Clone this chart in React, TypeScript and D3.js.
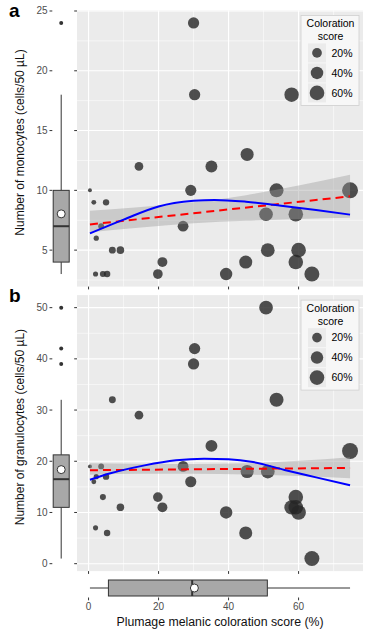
import React from 'react';
import { scaleLinear, scaleSqrt, line, area, curveMonotoneX, quantile, mean, ascending } from 'd3';

// plumage melanic coloration score (%) per bird
const score = [0.4, 1.5, 5, 3.6, 2.2, 6.8, 9.1, 2, 4.1, 5.3, 14.4, 19.8, 21.1, 27, 29.2, 30, 30.3, 35.1, 45.3, 53.7, 50.7, 59.2, 58, 74.7, 51.2, 60, 59.2, 44.9, 39.3, 63.8];
const monocytes = [10, 9, 9, 7, 6, 5, 5, 3, 3, 3, 12, 3, 4, 7, 10, 24, 18, 12, 13, 10, 8, 8, 18, 10, 5, 5, 4, 4, 3, 3];
const granulocytes = [19, 16, 17, 19, 17, 32, 11, 7, 13, 6, 29, 13, 11, 19, 16, 39, 42, 23, 18, 32, 50, 13, 11, 22, 18, 10, 11, 6, 10, 1];

// smoother (blue)
const smoothXA = [0.4, 10, 20, 30, 36, 45, 55, 65, 74.7];
const smoothA = [6.4, 7.55, 8.65, 9.12, 9.2, 9.05, 8.72, 8.35, 7.97];
const smoothXB = [0.4, 6, 16, 25, 33, 40, 47, 56, 65, 74.7];
const smoothB = [16.4, 17.6, 19.2, 20.2, 20.5, 20.4, 19.85, 18.3, 16.85, 15.3];

// linear fit (red dashed) and its band
const fitX = [0.4, 74.7];
const fitA = [7.15, 9.5];
const fitB = [18.25, 18.7];
const bandX = [0.4, 15, 30, 45, 60, 74.7];
const bandLowA = [6.5, 6.9, 7.25, 7.45, 7.6, 7.7];
const bandHighA = [8.3, 8.6, 9.0, 9.6, 10.4, 11.3];
const bandLowB = [17.35, 17.55, 17.55, 17.4, 17.1, 16.7];
const bandHighB = [19.6, 19.5, 19.45, 19.6, 20.1, 20.8];

const xTicks = [0, 20, 40, 60];
const xMinor = [10, 30, 50, 70];
const yTicksA = [5, 10, 15, 20, 25];
const yMinorA = [2.5, 7.5, 12.5, 17.5, 22.5];
const yTicksB = [0, 10, 20, 30, 40, 50];
const yMinorB = [5, 15, 25, 35, 45];
const legendValues = [20, 40, 60];

const FONT = "'Liberation Sans', Arial, sans-serif";
const PANEL_L = 77;
const PANEL_R = 363;

function boxStats(values: number[]) {
  const s = values.slice().sort(ascending);
  const q1 = quantile(s, 0.25)!;
  const med = quantile(s, 0.5)!;
  const q3 = quantile(s, 0.75)!;
  const iqr = q3 - q1;
  const inside = s.filter(v => v >= q1 - 1.5 * iqr && v <= q3 + 1.5 * iqr);
  return {
    q1, med, q3,
    lo: inside[0],
    hi: inside[inside.length - 1],
    mean: mean(s)!,
    out: s.filter(v => v < q1 - 1.5 * iqr || v > q3 + 1.5 * iqr),
  };
}

const x = scaleLinear().domain([-3.3, 78.4]).range([PANEL_L, PANEL_R]);
const size = scaleSqrt().domain([0, 75]).range([1.5, 8]);

type PanelProps = {
  label: string;
  title: string;
  values: number[];
  domain: [number, number];
  top: number;
  bottom: number;
  ticks: number[];
  minor: number[];
  sx: number[];
  sy: number[];
  fit: number[];
  low: number[];
  high: number[];
};

function Panel(p: PanelProps) {
  const y = scaleLinear().domain(p.domain).range([p.bottom, p.top]);
  const st = boxStats(p.values);
  const bx = 61.2;
  const smooth = line<number>().x((d, i) => x(p.sx[i])).y(d => y(d)).curve(curveMonotoneX);
  const fitLine = line<number>().x((d, i) => x(fitX[i])).y(d => y(d));
  const band = area<number>()
    .x((d, i) => x(bandX[i]))
    .y0((d, i) => y(p.low[i]))
    .y1(d => y(d))
    .curve(curveMonotoneX);
  const lx = 301, ly = p.top + 5;
  return (
    <g>
      <text x={9} y={p.top + 7} fontSize={19} fontWeight="bold" fontFamily={FONT}>{p.label}</text>
      {/* panel background and grid */}
      <rect x={PANEL_L} y={p.top} width={PANEL_R - PANEL_L} height={p.bottom - p.top} fill="#EBEBEB" />
      {p.minor.map(v => (
        <line key={'ym' + v} x1={PANEL_L} x2={PANEL_R} y1={y(v)} y2={y(v)} stroke="#fff" strokeWidth={0.55} />
      ))}
      {xMinor.map(v => (
        <line key={'xm' + v} x1={x(v)} x2={x(v)} y1={p.top} y2={p.bottom} stroke="#fff" strokeWidth={0.55} />
      ))}
      {p.ticks.map(v => (
        <line key={'yg' + v} x1={PANEL_L} x2={PANEL_R} y1={y(v)} y2={y(v)} stroke="#fff" strokeWidth={1.1} />
      ))}
      {xTicks.map(v => (
        <line key={'xg' + v} x1={x(v)} x2={x(v)} y1={p.top} y2={p.bottom} stroke="#fff" strokeWidth={1.1} />
      ))}
      {/* axis ticks of panel */}
      {p.ticks.map(v => (
        <line key={'pt' + v} x1={PANEL_L - 2.8} x2={PANEL_L} y1={y(v)} y2={y(v)} stroke="#333" strokeWidth={1} />
      ))}
      {xTicks.map(v => (
        <line key={'bt' + v} x1={x(v)} x2={x(v)} y1={p.bottom} y2={p.bottom + 2.8} stroke="#333" strokeWidth={1} />
      ))}
      {/* points */}
      {score.map((s, i) => (
        <circle key={'pt' + i} cx={x(s)} cy={y(p.values[i])} r={size(s)} fill="#262626" fillOpacity={0.8} />
      ))}
      <path d={band(p.high) || ''} fill="#999" fillOpacity={0.4} />
      <path d={fitLine(p.fit) || ''} fill="none" stroke="#ff0000" strokeWidth={2} strokeDasharray="8,5" />
      <path d={smooth(p.sy) || ''} fill="none" stroke="#0000ff" strokeWidth={2} />
      {/* y boxplot column with its axis */}
      {p.ticks.map(v => (
        <g key={'yt' + v}>
          <line x1={49.5} x2={52.3} y1={y(v)} y2={y(v)} stroke="#333" strokeWidth={1} />
          <text x={47.5} y={y(v)} dy="0.35em" textAnchor="end" fontSize={10} fill="#4D4D4D" fontFamily={FONT}>{v}</text>
        </g>
      ))}
      <line x1={bx} x2={bx} y1={y(st.hi)} y2={y(st.q3)} stroke="#333" strokeWidth={1} />
      <line x1={bx} x2={bx} y1={y(st.q1)} y2={y(st.lo)} stroke="#333" strokeWidth={1} />
      <rect x={bx - 8} y={y(st.q3)} width={16} height={y(st.q1) - y(st.q3)} fill="#A8A8A8" stroke="#333" strokeWidth={1} />
      <line x1={bx - 8} x2={bx + 8} y1={y(st.med)} y2={y(st.med)} stroke="#333" strokeWidth={2} />
      <circle cx={bx} cy={y(st.mean)} r={4} fill="#fff" stroke="#333" strokeWidth={1} />
      {st.out.map((v, i) => (
        <circle key={'o' + i} cx={bx} cy={y(v)} r={2} fill="#333" />
      ))}
      <text transform={`translate(24,${(p.top + p.bottom) / 2 - 6}) rotate(-90)`} textAnchor="middle" fontSize={12} fontFamily={FONT} fill="#111">{p.title}</text>
      {/* legend */}
      <rect x={lx} y={ly} width={58} height={90} fill="#F7F7F7" stroke="#CFCFCF" strokeWidth={0.8} />
      <text x={lx + 29.5} y={ly + 12} textAnchor="middle" fontSize={10.5} fontFamily={FONT}>Coloration</text>
      <text x={lx + 29.5} y={ly + 25} textAnchor="middle" fontSize={10.5} fontFamily={FONT}>score</text>
      {legendValues.map((v, i) => (
        <g key={'lg' + v}>
          <rect x={lx + 7} y={ly + 28 + i * 20} width={18} height={19} fill="#EBEBEB" />
          <circle cx={lx + 16} cy={ly + 37.5 + i * 20} r={size(v)} fill="#262626" fillOpacity={0.8} />
          <text x={lx + 30.5} y={ly + 37.5 + i * 20} dy="0.35em" fontSize={10.5} fontFamily={FONT}>{v}%</text>
        </g>
      ))}
    </g>
  );
}

export default function App() {
  const st = boxStats(score);
  const cy = 588;
  return (
    <svg width={373} height={633} style={{ position: 'absolute', left: 0, top: 0, background: '#fff' }}>
      <Panel label="a" title="Number of monocytes (cells/50 µL)" values={monocytes} domain={[1.95, 25.05]}
        top={10.4} bottom={286.6} ticks={yTicksA} minor={yMinorA} sx={smoothXA} sy={smoothA}
        fit={fitA} low={bandLowA} high={bandHighA} />
      <Panel label="b" title="Number of granulocytes (cells/50 µL)" values={granulocytes} domain={[-1.45, 52.45]}
        top={295.1} bottom={571.1} ticks={yTicksB} minor={yMinorB} sx={smoothXB} sy={smoothB}
        fit={fitB} low={bandLowB} high={bandHighB} />
      {/* x boxplot */}
      <line x1={x(st.lo)} x2={x(st.q1)} y1={cy} y2={cy} stroke="#333" strokeWidth={1} />
      <line x1={x(st.q3)} x2={x(st.hi)} y1={cy} y2={cy} stroke="#333" strokeWidth={1} />
      <rect x={x(st.q1)} y={cy - 8} width={x(st.q3) - x(st.q1)} height={16} fill="#A8A8A8" stroke="#333" strokeWidth={1} />
      <line x1={x(st.med)} x2={x(st.med)} y1={cy - 8} y2={cy + 8} stroke="#333" strokeWidth={2} />
      <circle cx={x(st.mean)} cy={cy} r={4} fill="#fff" stroke="#333" strokeWidth={1} />
      {xTicks.map(v => (
        <g key={'xt' + v}>
          <line x1={x(v)} x2={x(v)} y1={597.5} y2={600.3} stroke="#333" strokeWidth={1} />
          <text x={x(v)} y={606} dy="0.35em" textAnchor="middle" fontSize={10} fill="#4D4D4D" fontFamily={FONT}>{v}</text>
        </g>
      ))}
      <text x={220} y={626} textAnchor="middle" fontSize={12.3} fontFamily={FONT} fill="#111">Plumage melanic coloration score (%)</text>
    </svg>
  );
}
